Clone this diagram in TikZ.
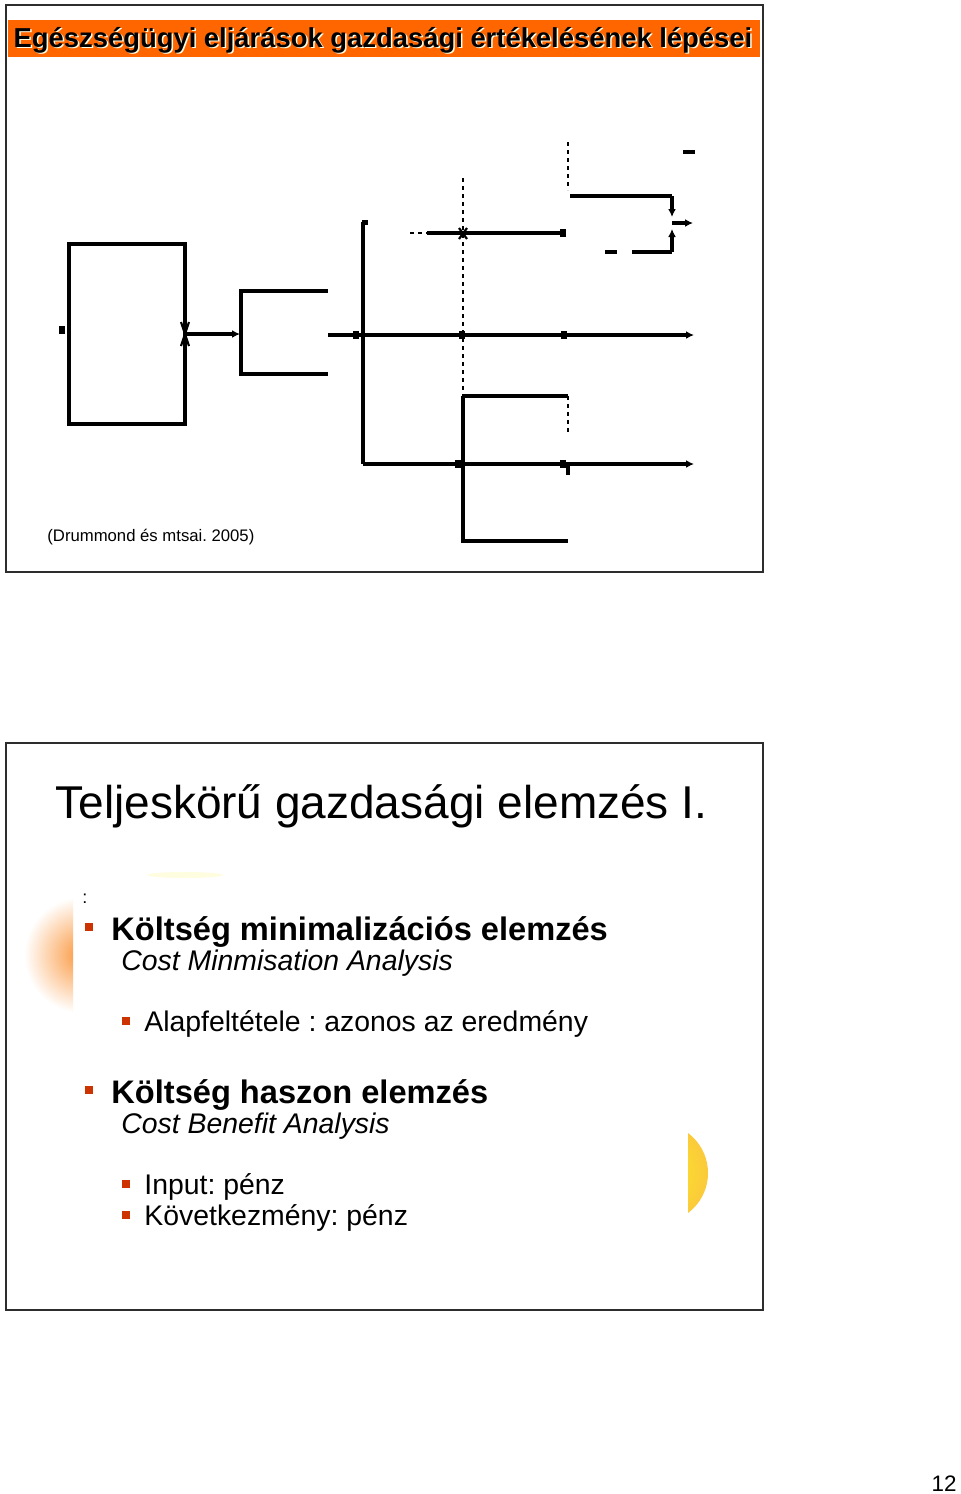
\documentclass[tikz,border=0pt]{standalone}
\usepackage{fontspec}
\setmainfont{Liberation Sans}
\setsansfont{Liberation Sans}
\usepackage{xcolor}
\usepackage{tikz}
\usetikzlibrary{positioning, calc, arrows.meta}
\definecolor{slOrange}{RGB}{255, 102, 0}
\definecolor{slFrame}{RGB}{45, 45, 45}
\definecolor{slRed}{RGB}{204, 51, 0}
\definecolor{slGlow}{RGB}{250, 150, 60}
\definecolor{slSun}{RGB}{250, 215, 70}
\frenchspacing
\tikzset{
    base/.style={
        font=\sffamily,
        inner sep=0pt
    },
    slide/.style={
        draw=slFrame,
        line width=1pt
    },
    wire/.style={
        line width=1.6pt,
        color=black
    },
    flow/.style={
        wire,
        -{Latex[length=4pt, width=4pt]}
    },
    hidden/.style={
        wire,
        line width=1.1pt,
        dash pattern=on 2pt off 2pt
    },
    pin/.style={
        rectangle,
        fill=black,
        inner sep=0pt,
        minimum width=3pt,
        minimum height=4pt
    },
    heading/.style={
        base,
        anchor=base west,
        font=\sffamily\bfseries\fontsize{16.3}{19}\selectfont
    },
    english/.style={
        base,
        anchor=base west,
        font=\sffamily\itshape\fontsize{14.2}{17}\selectfont
    },
    point/.style={
        base,
        anchor=base west,
        font=\sffamily\fontsize{14.2}{17}\selectfont
    },
    bullet/.style={
        rectangle,
        fill=slRed,
        inner sep=0pt,
        minimum size=4pt
    }
}
\begin{document}
\begin{tikzpicture}[x=0.5pt, y=-0.5pt, line join=miter]
    \useasboundingbox (0,0) rectangle (960,1494);
    \fill[white] (0,0) rectangle (960,1494);

    % First slide
    \draw[slide] (6,5) rectangle (763,572);
    \fill[slOrange] (8,20) rectangle (760,57);
    \node[base, font=\sffamily\bfseries\fontsize{13.7}{16}\selectfont, text=white!90!yellow]
        at (384.5,41.5) {Egészségügyi eljárások gazdasági értékelésének lépései};
    \node[base, font=\sffamily\bfseries\fontsize{13.7}{16}\selectfont] (title1)
        at (383,40) {Egészségügyi eljárások gazdasági értékelésének lépései};

    % Diagram points
    \coordinate (inL) at (62,330);
    \coordinate (outA) at (185,334);
    \coordinate (inB) at (240,334);
    \coordinate (outB) at (328,335);
    \coordinate (spine) at (363,335);
    \coordinate (spineTop) at (363,222);
    \coordinate (spineBot) at (363,464);
    \coordinate (midTop) at (463,178);
    \coordinate (midBot) at (463,396);
    \coordinate (mainEnd) at (694,335);
    \coordinate (lowEnd) at (694,464);
    \coordinate (upStart) at (410,233);
    \coordinate (upSolid) at (427,233);
    \coordinate (upEnd) at (563,233);
    \coordinate (cornerTop) at (672,196);
    \coordinate (cornerBot) at (672,252);
    \coordinate (sideEnd) at (693,223);

    % Boxes
    \draw[wire] (69,244) rectangle (185,424);
    \draw[wire] (328,291) -- (241,291) -- (241,374) -- (328,374);
    \draw[wire] (463,396) -- (568,396);
    \draw[wire] (463,396) -- (463,541) -- (568,541);
    \draw[hidden] (568,396) -- (568,435);

    % Connectors
    \draw[flow] (outA) -- (inB);
    \draw[wire] (outB) -- (spine);
    \draw[wire] (spineTop) -- (spineBot);
    \draw[flow] (spine) -- (mainEnd);
    \draw[flow] (spineBot) -- (lowEnd);
    \draw[hidden] (midTop) -- (midBot);
    \draw[hidden] (upStart) -- (upSolid);
    \draw[wire] (upSolid) -- (upEnd);
    \draw[hidden] (568,142) -- (568,190);
    \draw[wire] (570,196) -- (cornerTop);
    \draw[flow] (cornerTop) -- (672,217);
    \draw[flow] (672,223) -- (sideEnd);
    \draw[flow] (cornerBot) -- (672,229);
    \draw[wire] (632,252) -- (cornerBot);
    \draw[wire] (605,252) -- (617,252);
    \draw[wire] (683,152) -- (695,152);

    % Markers
    \node[pin] at (inL) {};
    \node[pin] at (356,335) {};
    \node[pin] at (462,335) {};
    \node[pin] at (564,335) {};
    \node[pin] at (563,233) {};
    \node[pin] at (458,464) {};
    \node[pin] at (563,464) {};
    \node[pin, minimum height=6pt, minimum width=1.8pt] at (568,469) {};
    \node[pin, minimum height=2.5pt] at (365,222) {};
    \draw[wire, line width=1.1pt] (181,322) -- (189,346) (189,322) -- (181,346);
    \draw[wire, line width=1.1pt] (459,228) -- (467,239) (467,228) -- (459,239);

    \node[base, anchor=base west, font=\sffamily\fontsize{8.35}{10}\selectfont] (source)
        at (47,541) {(Drummond és mtsai. 2005)};

    % Second slide
    \draw[slide] (6,743) rectangle (763,1310);
    \begin{scope}
        \clip (25,890) rectangle (73,1030);
        \shade[inner color=slGlow, outer color=white] (82,955) circle (58);
    \end{scope}
    \begin{scope}
        \clip (688,1125) rectangle (720,1222);
        \shade[inner color=yellow!45!slSun, outer color=slSun!85!orange] (658,1173) circle (50);
    \end{scope}
    \fill[yellow!12] (185,875) ellipse (38 and 3);

    \node[base, anchor=base west, font=\sffamily\fontsize{23}{27}\selectfont] (title2)
        at (55,818) {Teljeskörű gazdasági elemzés I.};
    \node[base, anchor=base west, font=\sffamily\fontsize{9}{10}\selectfont] (colon)
        at (82,903) {:};

    \node[bullet] (b1) at (88.5,926.5) {};
    \node[heading] (cma) at (111,940) {Költség minimalizációs elemzés};
    \node[english] (cmaEn) at (121,970) {Cost Minmisation Analysis};
    \node[bullet, minimum size=3.6pt] (b1a) at (126,1021) {};
    \node[point] (cmaRule) at (144,1031) {Alapfeltétele : azonos az eredmény};

    \node[bullet] (b2) at (88.5,1089.5) {};
    \node[heading] (cba) at (111,1103) {Költség haszon elemzés};
    \node[english] (cbaEn) at (121,1133) {Cost Benefit Analysis};
    \node[bullet, minimum size=3.6pt] (b2a) at (126,1184) {};
    \node[point] (cbaIn) at (144,1194) {Input: pénz};
    \node[bullet, minimum size=3.6pt] (b2b) at (126,1215) {};
    \node[point] (cbaOut) at (144,1225) {Következmény: pénz};

    \node[base, anchor=base east, font=\sffamily\fontsize{11.2}{13}\selectfont] (page)
        at (957,1491) {12};
\end{tikzpicture}
\end{document}
